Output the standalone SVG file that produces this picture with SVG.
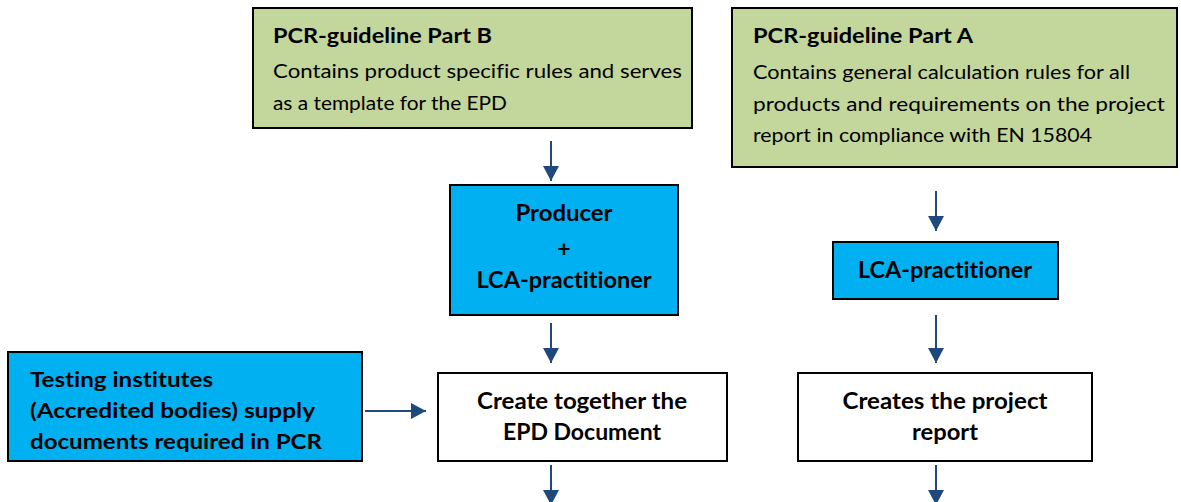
<svg xmlns="http://www.w3.org/2000/svg" width="1181" height="502" viewBox="0 0 1181 502">
<style>
.box{stroke:#000;stroke-width:2}
.green{fill:#C3D69B}
.blue{fill:#00B0F0}
.white{fill:#fff}
text{font-family:Lato,"Liberation Sans",sans-serif;fill:#000;font-variant-ligatures:none}
.t{font-weight:bold;font-size:21px}
.b{font-size:19.5px}
.hb{font-weight:bold;font-size:23px}
.tb{font-weight:bold;font-size:20px}
.cb{font-weight:bold;font-size:22px}
.conn{stroke:#1F497D;stroke-width:2;fill:none;marker-end:url(#ah)}
</style>
<defs>
<marker id="ah" markerUnits="userSpaceOnUse" markerWidth="16" markerHeight="16" refX="15" refY="8" orient="auto" viewBox="0 0 16 16">
<path d="M0,0 L15,8 L0,16 z" fill="#1F497D"/>
</marker>
<clipPath id="clipT"><rect x="9" y="353" width="352" height="99"/></clipPath>
</defs>
<rect width="1181" height="502" fill="#fff"/>
<g id="partB">
<rect class="box green" x="253" y="8" width="439" height="120"/>
<text class="t" x="273" y="43" textLength="219" lengthAdjust="spacingAndGlyphs">PCR-guideline Part B</text>
<text class="b" x="273" y="78" textLength="409" lengthAdjust="spacingAndGlyphs">Contains product specific rules and serves</text>
<text class="b" x="273" y="110" textLength="234" lengthAdjust="spacingAndGlyphs">as a template for the EPD</text>
</g>
<g id="partA">
<rect class="box green" x="732" y="8" width="445" height="159"/>
<text class="t" x="753" y="43" textLength="220" lengthAdjust="spacingAndGlyphs">PCR-guideline Part A</text>
<text class="b" x="753" y="79" textLength="377" lengthAdjust="spacingAndGlyphs">Contains general calculation rules for all</text>
<text class="b" x="753" y="111" textLength="412" lengthAdjust="spacingAndGlyphs">products and requirements on the project</text>
<text class="b" x="753" y="142" textLength="339" lengthAdjust="spacingAndGlyphs">report in compliance with EN 15804</text>
</g>
<g id="producer">
<rect class="box blue" x="450" y="185" width="228" height="130"/>
<text class="hb" x="564" y="221" text-anchor="middle" textLength="97" lengthAdjust="spacingAndGlyphs">Producer</text>
<text class="hb" x="564" y="257" text-anchor="middle">+</text>
<text class="hb" x="564" y="288" text-anchor="middle" textLength="175" lengthAdjust="spacingAndGlyphs">LCA-practitioner</text>
</g>
<g id="lca">
<rect class="box blue" x="833" y="242" width="225" height="57"/>
<text class="hb" x="945" y="278" text-anchor="middle" textLength="174" lengthAdjust="spacingAndGlyphs">LCA-practitioner</text>
</g>
<g id="testing">
<rect class="box blue" x="8" y="352" width="354" height="109"/>
<g clip-path="url(#clipT)">
<text class="tb" x="30" y="387" textLength="183" lengthAdjust="spacingAndGlyphs">Testing institutes</text>
<text class="tb" x="30" y="418" textLength="285" lengthAdjust="spacingAndGlyphs">(Accredited bodies) supply</text>
<text class="tb" x="30" y="449" textLength="292" lengthAdjust="spacingAndGlyphs">documents required in PCR</text>
</g>
</g>
<g id="create">
<rect class="box white" x="438" y="373" width="289" height="88"/>
<text class="cb" x="582" y="409" text-anchor="middle" textLength="210" lengthAdjust="spacingAndGlyphs">Create together the</text>
<text class="cb" x="582" y="440" text-anchor="middle" textLength="158" lengthAdjust="spacingAndGlyphs">EPD Document</text>
</g>
<g id="report">
<rect class="box white" x="798" y="373" width="294" height="88"/>
<text class="cb" x="945" y="409" text-anchor="middle" textLength="205" lengthAdjust="spacingAndGlyphs">Creates the project</text>
<text class="cb" x="945" y="440" text-anchor="middle" textLength="66" lengthAdjust="spacingAndGlyphs">report</text>
</g>
<g id="connectors">
<path class="conn" d="M551,141 L551,181"/>
<path class="conn" d="M936,191 L936,231"/>
<path class="conn" d="M551,323 L551,363"/>
<path class="conn" d="M936,315 L936,363"/>
<path class="conn" d="M365,411 L426,411"/>
<path class="conn" d="M551,465 L551,505"/>
<path class="conn" d="M936,465 L936,505"/>
</g>
</svg>
